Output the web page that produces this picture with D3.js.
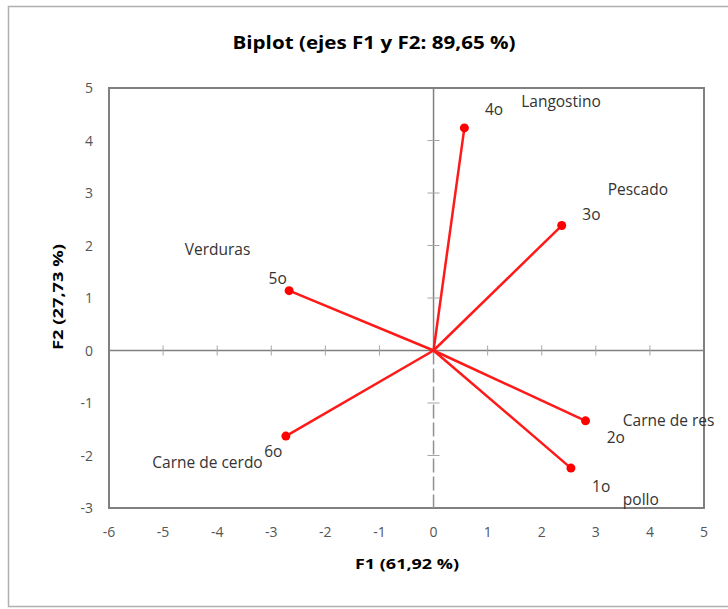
<!DOCTYPE html>
<html>
<head>
<meta charset="utf-8">
<script src="https://cdn.jsdelivr.net/npm/d3@7"></script>
<style>
  body { margin: 0; background: #fff; }
  svg { display: block; font-family: "Open Sans", "Noto Sans", sans-serif; }
</style>
</head>
<body>
<svg id="chart"></svg>
<script>
// Biplot F1 / F2
const variables = ["1o", "2o", "3o", "4o", "5o", "6o"];
const f1Values = [2.54, 2.81, 2.37, 0.57, -2.67, -2.73];
const f2Values = [-2.24, -1.34, 2.38, 4.24, 1.14, -1.63];
const xTicks = [-6, -5, -4, -3, -2, -1, 0, 1, 2, 3, 4, 5];
const yTicks = [-3, -2, -1, 0, 1, 2, 3, 4, 5];
// category names written beside the points, anchored in data units
const catNames = ["pollo", "Carne de res", "Pescado", "Langostino", "Verduras", "Carne de cerdo"];
const catX = [3.5, 3.5, 3.22, 1.62, -4.6, -5.2];
const catY = [-2.93, -1.42, 2.98, 4.65, 1.83, -2.22];
const numX = [2.93, 3.2, 2.75, 0.95, -3.05, -3.13];
const numY = [-2.68, -1.74, 2.5, 4.5, 1.28, -2.01];

const width = 728, height = 609;
const svg = d3.select("#chart").attr("width", width).attr("height", height);

// outer frame
svg.append("path")
    .attr("d", "M728,6.5 H8.5 V606.5 H728")
    .attr("fill", "none").attr("stroke", "#b0b0b0").attr("stroke-width", 1.5);

const x = d3.scaleLinear().domain([-6, 5]).range([109, 704]);
const y = d3.scaleLinear().domain([-3, 5]).range([508, 88]);

// plot border
svg.append("rect")
    .attr("x", x(-6)).attr("y", y(5))
    .attr("width", x(5) - x(-6)).attr("height", y(-3) - y(5))
    .attr("fill", "none").attr("stroke", "#808080").attr("stroke-width", 2);

// zero axes
svg.append("line")
    .attr("x1", x(-6)).attr("x2", x(5)).attr("y1", y(0)).attr("y2", y(0))
    .attr("stroke", "#808080").attr("stroke-width", 1.5);
svg.append("line")
    .attr("x1", x(0)).attr("x2", x(0)).attr("y1", y(5)).attr("y2", y(0))
    .attr("stroke", "#808080").attr("stroke-width", 1.5);
svg.append("line")
    .attr("x1", x(0)).attr("x2", x(0)).attr("y1", y(0)).attr("y2", y(-3))
    .attr("stroke", "#909090").attr("stroke-width", 1.5)
    .attr("stroke-dasharray", "14,4");

// small cross ticks on the zero axes
svg.selectAll(".xt")
    .data(xTicks.filter(d => d > -6 && d < 5 && d !== 0))
    .enter().append("line")
    .attr("x1", d => x(d)).attr("x2", d => x(d))
    .attr("y1", y(0) - 5).attr("y2", y(0) + 5)
    .attr("stroke", "#a6a6a6").attr("stroke-width", 1);
svg.selectAll(".yt")
    .data(yTicks.filter(d => d > -3 && d < 5 && d !== 0))
    .enter().append("line")
    .attr("x1", x(0) - 6).attr("x2", x(0) + 6)
    .attr("y1", d => y(d)).attr("y2", d => y(d))
    .attr("stroke", "#a6a6a6").attr("stroke-width", 1);

// tick labels
svg.selectAll(".xl")
    .data(xTicks).enter().append("text")
    .attr("x", d => x(d)).attr("y", 537)
    .attr("text-anchor", "middle")
    .attr("font-size", 14).attr("fill", "#555")
    .text(d => d);
svg.selectAll(".yl")
    .data(yTicks).enter().append("text")
    .attr("x", 93).attr("y", d => y(d) + 5)
    .attr("text-anchor", "end")
    .attr("font-size", 14).attr("fill", "#555")
    .text(d => d);

// vectors
const pts = variables.map((v, i) => ({ name: v, f1: f1Values[i], f2: f2Values[i] }));
svg.selectAll(".vec")
    .data(pts).enter().append("line")
    .attr("x1", x(0)).attr("y1", y(0))
    .attr("x2", d => x(d.f1)).attr("y2", d => y(d.f2))
    .attr("stroke", "#ff1a1a").attr("stroke-width", 2.5);
svg.selectAll(".pt")
    .data(pts).enter().append("circle")
    .attr("cx", d => x(d.f1)).attr("cy", d => y(d.f2))
    .attr("r", 4.5).attr("fill", "#ff0000");

// point labels
svg.selectAll(".nl")
    .data(variables).enter().append("text")
    .attr("x", (d, i) => x(numX[i])).attr("y", (d, i) => y(numY[i]) + 1)
    .attr("font-size", 15.5).attr("fill", "#333")
    .text(d => d);
svg.selectAll(".cl")
    .data(catNames).enter().append("text")
    .attr("x", (d, i) => x(catX[i])).attr("y", (d, i) => y(catY[i]) + 1)
    .attr("font-size", 15.5).attr("fill", "#333")
    .text(d => d);

// titles
svg.append("text")
    .attr("x", 374).attr("y", 49)
    .attr("text-anchor", "middle")
    .attr("font-size", 18).attr("font-weight", "bold")
    .attr("textLength", 283).attr("lengthAdjust", "spacingAndGlyphs")
    .text("Biplot (ejes F1 y F2: 89,65 %)");
svg.append("text")
    .attr("x", 407).attr("y", 569)
    .attr("text-anchor", "middle")
    .attr("font-size", 15).attr("font-weight", "bold")
    .attr("textLength", 104).attr("lengthAdjust", "spacingAndGlyphs")
    .text("F1 (61,92 %)");
svg.append("text")
    .attr("transform", "translate(63,297) rotate(-90)")
    .attr("text-anchor", "middle")
    .attr("font-size", 15).attr("font-weight", "bold")
    .attr("textLength", 106).attr("lengthAdjust", "spacingAndGlyphs")
    .text("F2 (27,73 %)");
</script>
</body>
</html>
